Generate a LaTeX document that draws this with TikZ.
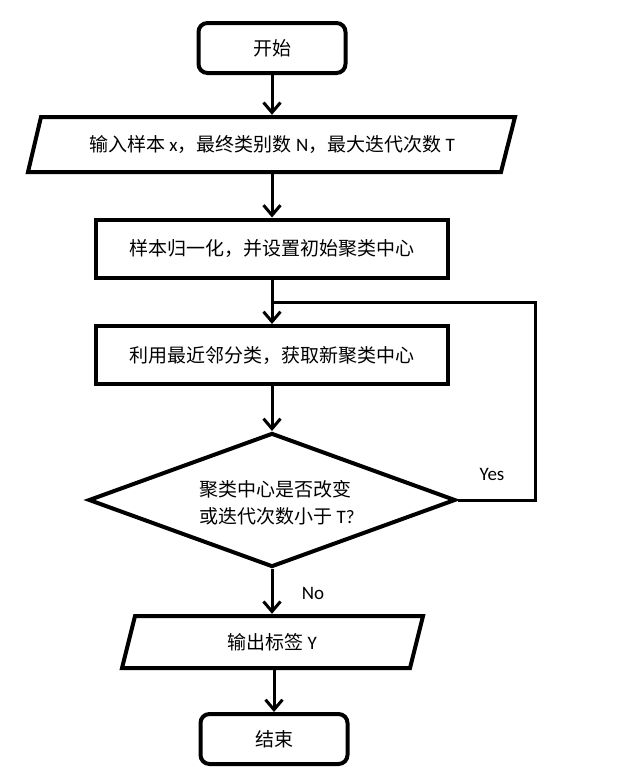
\documentclass[tikz,border=0pt]{standalone}
\usepackage{fontspec}
\setmainfont{Carlito}
\newfontfamily\zhfont{Noto Sans CJK SC}
\newcommand\zh[1]{{\zhfont #1}}
\usetikzlibrary{arrows.meta,shapes.geometric}
\begin{document}
\begin{tikzpicture}[x=1pt,y=-1pt,
  every node/.style={font=\fontsize{19}{27}\selectfont, inner sep=0pt},
  termbox/.style={draw, line width=4pt, rounded corners=9pt, minimum width=147pt, minimum height=50pt},
  procbox/.style={draw, line width=4pt, minimum width=352pt, minimum height=58pt},
  ioshape/.style={draw, line width=4pt, line join=miter},
  decbox/.style={draw, diamond, line width=4pt, minimum width=367pt, minimum height=134pt},
  link/.style={line width=3pt},
  arr/.style={link, -{Straight Barb[length=10pt,width=17pt]}}]
\useasboundingbox (0,0) rectangle (628,779);
% start
\node[termbox] (start) at (272,48) {\zh{开始}};
% input parallelogram
\draw[ioshape] (41,117) -- (515,117) -- (501,172) -- (28,172) -- cycle;
\node[minimum width=470pt, minimum height=59pt] (in) at (272,144.5)
  {\zh{输入样本} x\zh{，最终类别数} N\zh{，最大迭代次数} T};
% process boxes
\node[procbox] (b2) at (272,248.5) {\zh{样本归一化，并设置初始聚类中心}};
\node[procbox] (b3) at (272,355) {\zh{利用最近邻分类，获取新聚类中心}};
% decision
\node[decbox] (d) at (272,500) {};
\node[align=left] (dt) at (277,503) {\zh{聚类中心是否改变}\\ \zh{或迭代次数小于} T?};
% output parallelogram
\draw[ioshape] (135,616) -- (423,616) -- (410,668) -- (122,668) -- cycle;
\node[minimum width=280pt, minimum height=56pt] (out) at (272,642) {\zh{输出标签} Y};
% end
\node[termbox] (end) at (274,739) {\zh{结束}};
% connectors
\draw[arr] (start) -- (in);
\draw[arr] (in) -- (b2);
\draw[arr] (b2) -- (b3);
\draw[arr] (b3) -- (d);
\draw[arr] (d) -- (out);
\draw[arr] (out.south -| end.north) -- (end.north);
\coordinate (c1) at (535,302);
\coordinate (j) at (272,302);
\draw[link] (d.east) -| (c1) -- (j);
% labels
\node (yes) at (492,474) {Yes};
\node (no) at (313,593) {No};
\end{tikzpicture}
\end{document}
